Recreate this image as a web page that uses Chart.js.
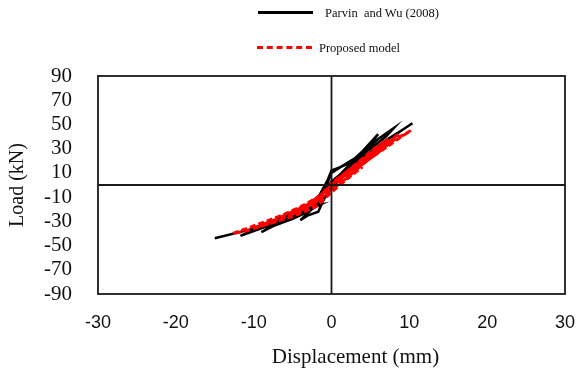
<!DOCTYPE html>
<html lang="en">
<head>
    <meta charset="UTF-8">
    <title>Load vs Displacement</title>
    <style>
        body {
            margin: 0;
            background: white;
        }

        .wrap {
            position: relative;
            width: 578px;
            height: 374px;
        }

        .legend-item {
            position: absolute;
            font-family: "Liberation Serif", "Times New Roman", serif;
            font-size: 12.5px;
            color: #111;
            white-space: pre;
            line-height: 14px;
        }

        .sample {
            position: absolute;
            width: 55px;
            height: 0;
        }
    </style>
</head>
<body>
    <div class="wrap">
        <canvas id="chart" width="578" height="374"></canvas>
        <div class="sample" style="left:258px; top:11px; border-top:3px solid #000;"></div>
        <div class="legend-item" style="left:325px; top:6px;">Parvin  and Wu (2008)</div>
        <div class="sample" style="left:257px; top:46px; border-top:3px dashed #ff0000;"></div>
        <div class="legend-item" style="left:319px; top:41px;">Proposed model</div>
    </div>

    <script src="https://cdn.jsdelivr.net/npm/chart.js"></script>
    <script>
        // Parvin and Wu (2008) test loops
        const testDisp = [0, 1, 2.5, 4, 6, 5, 3, 1.2, 0, -0.5, -1, -1.7, -2.5, -4,
            -3, -1.7, -1, 0, 1, 2.5, 4, 6, 8, 7, 5, 3, 1.2, 0, -0.5, -1.5, -3, -5, -7, -9,
            -7.5, -5, -3, -1.5, 0, 1.5, 3, 5, 7, 8.5, 10.4, 9, 7, 5, 3, 1, 0, -1, -3, -5, -8, -11.7,
            -10, -7, -4, -1.7, -3, -6, -10, -15];
        const testLoad = [0, 8, 18, 28, 42, 34, 22, 15, 10, 2, -6, -14, -20, -29,
            -25, -22, -12, -2, 6, 16, 27, 38, 47, 40, 30, 20, 15, 12, 4, -8, -17, -24, -31, -39,
            -34, -28, -22, -15, -3, 8, 17, 27, 37, 43, 51, 45, 36, 27, 18, 8, 3, -6, -16, -23, -31, -42,
            -38, -31, -24, -17, -19, -27, -36, -44];

        // Proposed model loops
        const modelDisp = [0, 1, 2.5, 4, 5.5, 7.3, 6, 4, 2, 0, -1, -2, -3.5, -5,
            -4, -2.5, -1, 0, 1.5, 3, 5, 7, 8.6, 7.5, 5.5, 3.5, 1.5, 0, -1.5, -3, -5, -7, -9, -10,
            -8.5, -6, -4, -2, 0, 2, 4, 6, 8, 10.2, 9, 7, 5, 3, 1, 0, -2, -4, -6, -8, -10.5, -12.7,
            -11, -8, -5, -2, 0, 2, 4];
        const modelLoad = [0, 6, 14, 22, 30, 38, 31, 21, 11, 2, -6, -13, -19, -24,
            -22, -17, -10, -3, 5, 13, 24, 34, 42, 36, 27, 17, 7, 0, -9, -16, -22, -28, -33, -35.5,
            -33, -27, -21, -14, -4, 6, 17, 27, 37, 45, 40, 31, 22, 13, 4, -1, -11, -18, -24, -29, -35, -40,
            -38, -32, -26, -18, -6, 5, 15];

        const xTicks = [-30, -20, -10, 0, 10, 20, 30];
        const yTicks = [90, 70, 50, 30, 10, -10, -30, -50, -70, -90];

        const toPoints = (xs, ys) => xs.map((x, i) => ({ x: x, y: ys[i] }));

        // frame box and the two zero lines
        const framePlugin = {
            id: 'frame',
            afterDatasetsDraw(chart) {
                const { ctx, chartArea: a, scales } = chart;
                ctx.save();
                ctx.strokeStyle = '#1a1a1a';
                ctx.lineWidth = 1.8;
                ctx.strokeRect(a.left, a.top, a.right - a.left, a.bottom - a.top);
                const x0 = scales.x.getPixelForValue(0);
                const y0 = scales.y.getPixelForValue(0);
                ctx.beginPath();
                ctx.moveTo(x0, a.top);
                ctx.lineTo(x0, a.bottom);
                ctx.moveTo(a.left, y0);
                ctx.lineTo(a.right, y0);
                ctx.stroke();
                ctx.restore();
            },
            afterDraw(chart) {
                // x axis title sits a little right of centre in the original
                const { ctx, chartArea: a } = chart;
                ctx.save();
                ctx.font = '21px "Liberation Serif", serif';
                ctx.fillStyle = '#111';
                ctx.textAlign = 'center';
                ctx.textBaseline = 'middle';
                ctx.fillText('Displacement (mm)', (a.left + a.right) / 2 + 24, 357);
                ctx.restore();
            }
        };

        new Chart(document.getElementById('chart'), {
            type: 'scatter',
            data: {
                datasets: [
                    {
                        label: 'Parvin  and Wu (2008)',
                        data: toPoints(testDisp, testLoad),
                        showLine: true,
                        borderColor: '#000',
                        borderWidth: 2.5,
                        pointRadius: 0,
                        tension: 0,
                        order: 1
                    },
                    {
                        label: 'Proposed model',
                        data: toPoints(modelDisp, modelLoad),
                        showLine: true,
                        borderColor: '#ff0000',
                        borderWidth: 3,
                        borderDash: [6, 3],
                        pointRadius: 0,
                        tension: 0,
                        order: 0
                    }
                ]
            },
            options: {
                responsive: false,
                animation: false,
                layout: {
                    padding: { top: 76, right: 13, left: 0, bottom: 0 }
                },
                plugins: {
                    legend: { display: false },
                    tooltip: { enabled: false }
                },
                scales: {
                    x: {
                        type: 'linear',
                        min: -30,
                        max: 30,
                        afterBuildTicks: (axis) => { axis.ticks = xTicks.map(v => ({ value: v })); },
                        afterFit: (scale) => {
                            scale.height = 80;
                            scale.paddingLeft = 0;
                            scale.paddingRight = 0;
                        },
                        grid: { display: false },
                        border: { display: false },
                        ticks: {
                            autoSkip: false,
                            maxRotation: 0,
                            padding: 10,
                            color: '#111',
                            font: { family: '"Liberation Sans", Arial, sans-serif', size: 18 }
                        },
                        title: { display: false }
                    },
                    y: {
                        type: 'linear',
                        min: -90,
                        max: 90,
                        afterBuildTicks: (axis) => { axis.ticks = yTicks.map(v => ({ value: v })); },
                        afterFit: (scale) => {
                            scale.width = 98;
                            scale.paddingTop = 0;
                            scale.paddingBottom = 0;
                        },
                        grid: { display: false },
                        border: { display: false },
                        ticks: {
                            autoSkip: false,
                            padding: 18,
                            color: '#111',
                            font: { family: '"Liberation Serif", "Times New Roman", serif', size: 21 }
                        },
                        title: {
                            display: true,
                            text: 'Load (kN)',
                            color: '#111',
                            padding: { top: 6, bottom: 0 },
                            font: { family: '"Liberation Serif", "Times New Roman", serif', size: 20 }
                        }
                    }
                }
            },
            plugins: [framePlugin]
        });
    </script>
</body>
</html>
